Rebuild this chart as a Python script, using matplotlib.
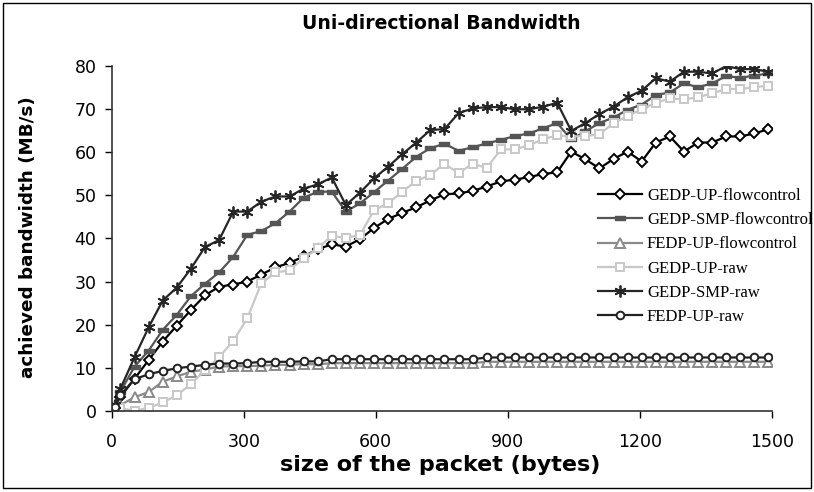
import matplotlib.pyplot as plt
from matplotlib.patches import Rectangle

# packet sizes (bytes)
sizes = [8, 20, 52, 84, 116, 148, 180, 212, 244, 276,
         308, 340, 372, 404, 436, 468, 500, 532, 564, 596,
         628, 660, 692, 724, 756, 788, 820, 852, 884, 916,
         948, 980, 1012, 1044, 1076, 1108, 1140, 1172, 1204, 1236,
         1268, 1300, 1332, 1364, 1396, 1428, 1460, 1492]

# bandwidth in MB/s for each configuration
gedp_up_fc = [1.2, 3.3, 7.5, 11.8, 16.1, 19.8, 23.4, 26.8, 28.8, 29.3,
              30.0, 31.6, 33.3, 34.3, 35.8, 37.5, 38.6, 38.1, 39.8, 42.4,
              44.5, 45.9, 47.2, 48.8, 50.2, 50.4, 51.0, 52.0, 53.2, 53.6,
              54.2, 54.9, 55.3, 60.1, 58.3, 56.2, 58.4, 60.1, 57.8, 62.2,
              63.6, 60.1, 62.2, 62.2, 63.6, 63.6, 64.3, 65.3]
gedp_smp_fc = [1.5, 4.5, 10.3, 14.0, 18.8, 22.3, 26.6, 29.5, 32.1, 35.7,
               40.8, 41.7, 43.5, 46.2, 49.4, 50.8, 50.8, 46.2, 48.1, 50.7,
               53.4, 56.1, 58.9, 60.9, 61.9, 60.3, 61.1, 62.0, 62.8, 63.7,
               64.3, 65.5, 66.7, 62.9, 64.8, 66.7, 68.0, 69.8, 71.0, 73.2,
               73.8, 75.9, 75.0, 75.9, 77.6, 77.2, 77.7, 78.2]
fedp_up_fc = [0.8, 1.4, 3.2, 4.4, 6.8, 8.0, 9.1, 9.6, 10.3, 10.4,
              10.4, 10.5, 10.7, 10.7, 10.9, 10.8, 11.1, 11.1, 11.1, 11.1,
              11.1, 11.1, 11.1, 11.1, 11.1, 11.1, 11.1, 11.4, 11.4, 11.4,
              11.4, 11.4, 11.4, 11.4, 11.4, 11.4, 11.4, 11.4, 11.4, 11.4,
              11.4, 11.4, 11.4, 11.4, 11.4, 11.4, 11.4, 11.4]
gedp_up_raw = [1.2, 0.6, 0.1, 0.7, 2.0, 3.6, 6.3, 9.4, 12.5, 16.2,
               21.5, 29.6, 32.1, 32.6, 35.4, 37.7, 40.6, 40.1, 40.8, 46.5,
               48.1, 50.8, 53.3, 54.7, 57.3, 55.1, 57.3, 56.3, 60.6, 60.6,
               61.6, 62.9, 63.9, 63.6, 63.7, 64.1, 66.7, 68.3, 69.9, 71.4,
               72.4, 72.2, 72.7, 73.6, 74.6, 74.6, 75.0, 75.4]
gedp_smp_raw = [1.5, 5.2, 12.5, 19.4, 25.6, 28.6, 33.0, 38.0, 39.6, 46.2,
                46.2, 48.5, 49.7, 49.7, 51.5, 52.5, 54.1, 47.7, 50.6, 53.9,
                56.6, 59.5, 62.2, 65.1, 65.3, 69.0, 70.1, 70.4, 70.4, 69.9,
                69.9, 70.5, 71.4, 64.9, 66.7, 68.8, 70.5, 72.7, 74.2, 77.1,
                76.3, 78.6, 78.6, 78.2, 79.9, 79.2, 79.2, 78.6]
fedp_up_raw = [1.0, 3.7, 7.4, 8.5, 9.3, 9.9, 10.3, 10.7, 11.0, 11.0,
               11.1, 11.4, 11.4, 11.4, 11.5, 11.5, 12.0, 12.0, 12.0, 12.0,
               12.0, 12.0, 12.0, 12.0, 12.0, 12.0, 12.0, 12.4, 12.4, 12.4,
               12.4, 12.4, 12.4, 12.4, 12.4, 12.4, 12.4, 12.4, 12.4, 12.4,
               12.4, 12.4, 12.4, 12.4, 12.4, 12.4, 12.4, 12.4]

labels = ['GEDP-UP-flowcontrol', 'GEDP-SMP-flowcontrol', 'FEDP-UP-flowcontrol',
          'GEDP-UP-raw', 'GEDP-SMP-raw', 'FEDP-UP-raw']

plt.rcParams['font.family'] = ['DejaVu Sans']

fig = plt.figure(figsize=(8.14, 4.92), dpi=100)
ax = fig.add_axes([0.1372, 0.1646, 0.8112, 0.7019])

# wide flat bar used as the "dash" marker
dash = [(-1, -0.45), (1, -0.45), (1, 0.45), (-1, 0.45), (-1, -0.45)]

ax.plot(sizes, gedp_up_fc, color='black', lw=1.6, marker='D', ms=5.5,
        mfc='white', mec='black', mew=1.4, label=labels[0])
ax.plot(sizes, gedp_smp_fc, color='#555555', lw=1.6, marker=dash, ms=7,
        mfc='#555555', mec='#555555', label=labels[1])
ax.plot(sizes, fedp_up_fc, color='#8a8a8a', lw=1.6, marker='^', ms=6.5,
        mfc='white', mec='#8a8a8a', mew=1.4, label=labels[2])
ax.plot(sizes, gedp_up_raw, color='#c8c8c8', lw=1.6, marker='s', ms=6,
        mfc='white', mec='#c8c8c8', mew=1.4, label=labels[3])
ax.plot(sizes, gedp_smp_raw, color='#262626', lw=1.6, marker=(6, 2, 0), ms=8.5,
        mec='#262626', mew=1.3, label=labels[4])
ax.plot(sizes, fedp_up_raw, color='#222222', lw=1.6, marker='o', ms=5.5,
        mfc='white', mec='#222222', mew=1.4, label=labels[5])

ax.set_xlim(0, 1500)
ax.set_ylim(0, 80)
ax.set_xticks([0, 300, 600, 900, 1200, 1500])
ax.set_yticks(range(0, 81, 10))
ax.tick_params(direction='out', length=5, width=1, labelsize=12.5, colors='black')
ax.tick_params(axis='x', pad=11)
ax.tick_params(axis='y', pad=6)
ax.spines['top'].set_visible(False)
ax.spines['right'].set_visible(False)
for s in ['left', 'bottom']:
    ax.spines[s].set_color('#333333')
    ax.spines[s].set_linewidth(1.2)

fig.text(0.542, 0.953, 'Uni-directional Bandwidth', ha='center', va='center',
         fontsize=13.6, fontweight='bold')
fig.text(0.541, 0.055, 'size of the packet (bytes)', ha='center', va='center',
         fontsize=16, fontweight='bold')
fig.text(0.034, 0.518, 'achieved bandwidth (MB/s)', ha='center', va='center',
         rotation=90, fontsize=13.2, fontweight='bold')

ax.legend(loc='upper left', bbox_to_anchor=(0.726, 0.665), frameon=False,
          prop={'family': 'Liberation Serif', 'size': 12},
          handlelength=2.65, handletextpad=0.3, labelspacing=0.49,
          borderaxespad=0)

# border around the whole chart
fig.patches.append(Rectangle((0.004, 0.008), 0.992, 0.986, transform=fig.transFigure,
                             fill=False, edgecolor='black', lw=1))

fig.savefig('out.png', dpi=100)
